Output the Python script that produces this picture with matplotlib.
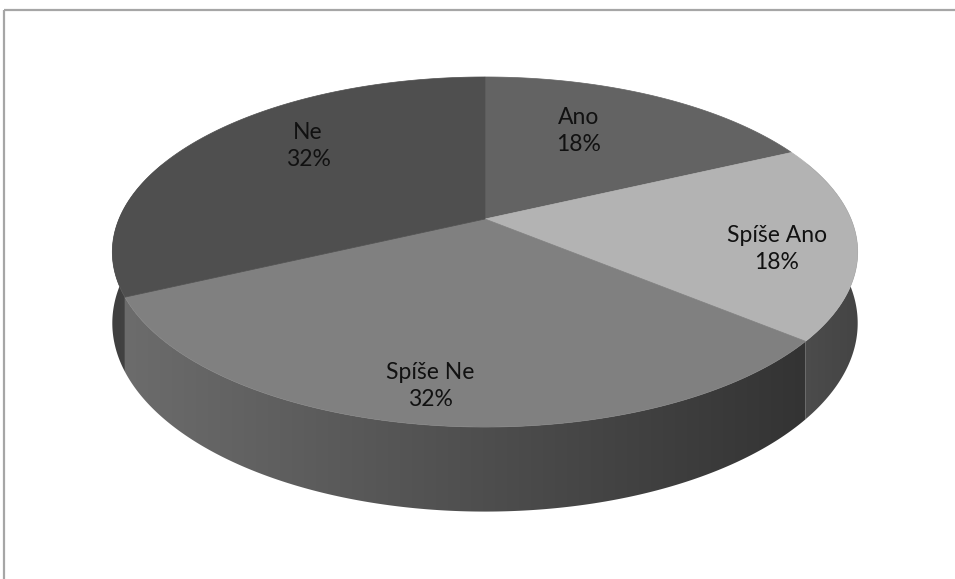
import numpy as np
import matplotlib.pyplot as plt
from matplotlib.patches import Polygon
from matplotlib.colors import to_rgb

# každý obrázek přechodu má vlastní ořezovou cestu
plt.rcParams['image.composite_image'] = False

# Odpovědi na otázku
kategorie = ['Ano', 'Spíše Ano', 'Spíše Ne', 'Ne']
procenta = [18, 18, 32, 32]

barvy_vrch = ['#636363', '#b3b3b3', '#808080', '#4f4f4f']
# barva boku vlevo a vpravo
barvy_bok = [('#444444', '#444444'), ('#4c4c4c', '#444444'),
             ('#6c6c6c', '#333333'), ('#404040', '#454545')]

# umístění popisků (pixely)
popisky_xy = [(579, 131), (777, 249), (430, 386), (308, 146)]

# geometrie 3D koláče
cx, cy = 485, 219
A, B = 366, 168.8
p = 0.1886
D = 68.6


def bod(theta, dole=False):
    X, Y = np.sin(theta), np.cos(theta)
    s = 1.0 / (1.0 + p * Y)
    x = cx + A * X * s
    y = cy - B * Y * s
    if dole:
        y = y + D * s
    return x, y


fig = plt.figure(figsize=(9.55, 5.79), dpi=100)
ax = fig.add_axes([0, 0, 1, 1])
ax.axis('off')

# rámeček grafu
ax.plot([4, 955], [9.5, 9.5], color='#a6a6a6', lw=1.6, solid_capstyle='butt')
ax.plot([4, 4], [9.5, 579], color='#a6a6a6', lw=1.6, solid_capstyle='butt')

hranice = np.concatenate([[0], np.cumsum(procenta)]) / 100.0 * 2 * np.pi

# boky výsečí - polygon vyplněný vodorovným přechodem
for i in range(len(procenta)):
    t0, t1 = hranice[i], hranice[i + 1]
    uhly = np.linspace(t0, t1, 300)
    uhly = uhly[np.cos(uhly) < 0.35]
    if len(uhly) < 2:
        continue
    horni = [bod(t) for t in uhly]
    dolni = [bod(t, True) for t in uhly[::-1]]
    okraj = Polygon(horni + dolni, closed=True, facecolor='none', edgecolor='none')
    ax.add_patch(okraj)

    xs = np.array([q[0] for q in horni])
    ys = np.array([q[1] for q in horni + dolni])
    lo, hi = xs.min(), xs.max()
    c0, c1 = np.array(to_rgb(barvy_bok[i][0])), np.array(to_rgb(barvy_bok[i][1]))
    t = np.linspace(0, 1, 256)
    grad = c0 + (c1 - c0) * t[:, None]
    img = ax.imshow(grad[None, :, :], extent=(lo - 2, hi + 2, ys.max() + 2, ys.min() - 2),
                    aspect='auto', interpolation='bilinear', zorder=1)
    img.set_clip_path(okraj)

# horní plochy
for i in range(len(procenta)):
    uhly = np.linspace(hranice[i], hranice[i + 1], 200)
    pts = [(cx, cy)] + [bod(t) for t in uhly]
    ax.add_patch(Polygon(pts, closed=True, facecolor=barvy_vrch[i],
                         edgecolor=barvy_vrch[i], lw=0.5, zorder=2))

ax.set_xlim(0, 955)
ax.set_ylim(579, 0)

# popisky
for i, nazev in enumerate(kategorie):
    x, y = popisky_xy[i]
    ax.text(x, y, f'{nazev}\n{procenta[i]}%', ha='center', va='center',
            fontsize=16.5, family='Lato', color='#111111', linespacing=1.3,
            zorder=3)

fig.savefig('out.png', dpi=100)
